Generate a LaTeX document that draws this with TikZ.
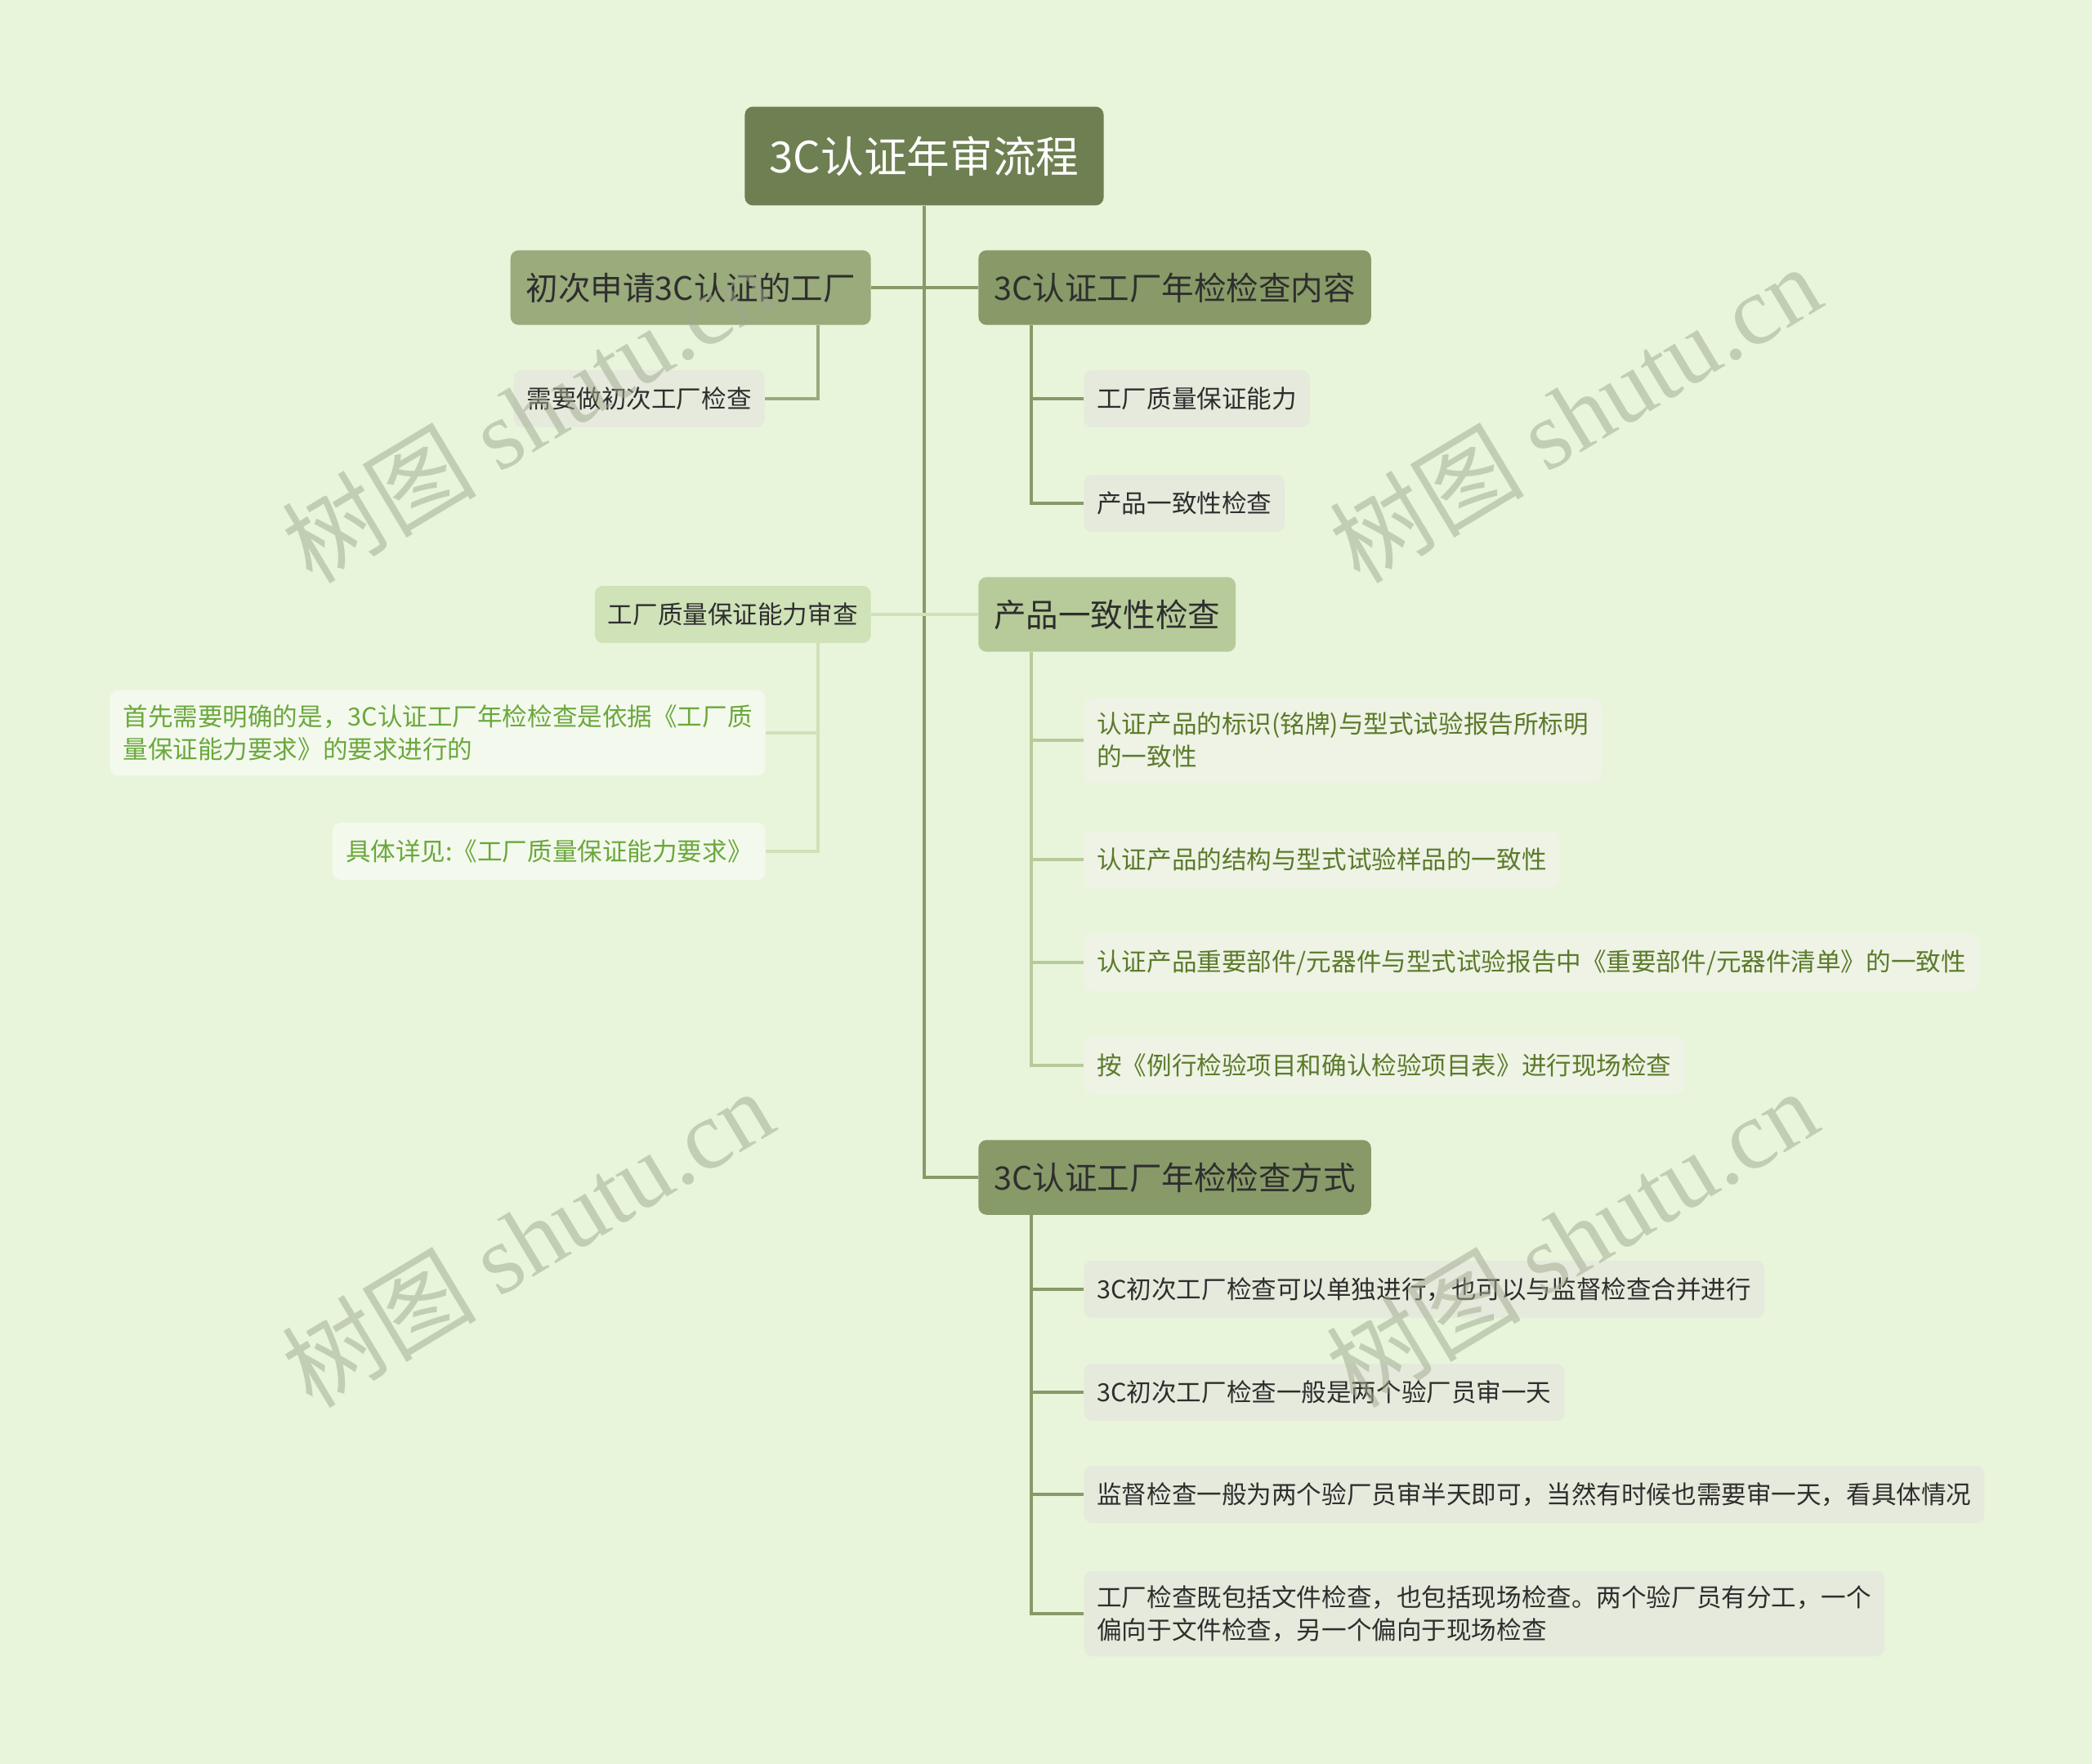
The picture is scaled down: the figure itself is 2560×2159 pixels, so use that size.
\documentclass[tikz,border=0pt]{standalone}
\usepackage{fontspec}
\setmainfont{Noto Sans CJK SC}
\newfontfamily\wmfont{Liberation Serif}
\usetikzlibrary{positioning, calc}

\definecolor{bgcol}{HTML}{E8F5DB}
\definecolor{rootcol}{HTML}{6E7F52}
\definecolor{darkcol}{HTML}{879A68}
\definecolor{midcol}{HTML}{9AAB7C}
\definecolor{lightcol}{HTML}{B7CB9A}
\definecolor{palecol}{HTML}{CFE2B8}
\definecolor{grayfill}{HTML}{E6EADC}
\definecolor{prodfill}{HTML}{EEF3E5}
\definecolor{prodtext}{HTML}{5B7A2B}
\definecolor{qualfill}{HTML}{F4F9EE}
\definecolor{qualtext}{HTML}{6AA83B}
\definecolor{inktext}{HTML}{2E2E2E}
\definecolor{wmcol}{HTML}{9EA88E}

\begin{document}
\begin{tikzpicture}[
    x=0.02cm, y=-0.02cm,
    rootbox/.style={fill=rootcol, text=white, rounded corners=0.2cm, inner xsep=0.6cm,
        minimum height=2.42cm, font=\fontsize{30}{36}\selectfont},
    mainbox/.style={rounded corners=0.2cm, inner xsep=0.38cm, minimum height=1.83cm,
        text=inktext, font=\fontsize{22.5}{28}\selectfont},
    leafbox/.style={rounded corners=0.2cm, inner xsep=0.32cm, inner ysep=0.36cm, minimum height=1.4cm,
        align=left, text=inktext, font=\fontsize{17.4}{22.6}\selectfont},
    link/.style={line width=2.5pt, draw=darkcol},
    wmark/.style={text=wmcol, opacity=0.5, rotate=31, font=\fontsize{68}{70}\selectfont}
]
\fill[bgcol] (0,0) rectangle (2560,2159);
\useasboundingbox (0,0) rectangle (2560,2159);

% root and main topics
\node[rootbox] (root) at (1131,191) {3C认证年审流程};
\node[mainbox, fill=midcol, anchor=east] (first) at (1066,352) {初次申请3C认证的工厂};
\node[mainbox, fill=darkcol, anchor=west] (content) at (1197,352) {3C认证工厂年检检查内容};
\node[mainbox, fill=lightcol, anchor=west] (prodcheck) at (1197,752) {产品一致性检查};
\node[leafbox, fill=palecol, anchor=east] (qualrev) at (1066,752) {工厂质量保证能力审查};
\node[mainbox, fill=darkcol, anchor=west] (method) at (1197,1441) {3C认证工厂年检检查方式};

% leaves
\node[leafbox, fill=grayfill, anchor=east] (need) at (936,488) {需要做初次工厂检查};
\node[leafbox, fill=grayfill, anchor=west] (cap) at (1326,488) {工厂质量保证能力};
\node[leafbox, fill=grayfill, anchor=west] (cons) at (1326,616) {产品一致性检查};

\node[leafbox, fill=prodfill, text=prodtext, anchor=west] (p1) at (1326,906) {认证产品的标识(铭牌)与型式试验报告所标明\\的一致性};
\node[leafbox, fill=prodfill, text=prodtext, anchor=west] (p2) at (1326,1052) {认证产品的结构与型式试验样品的一致性};
\node[leafbox, fill=prodfill, text=prodtext, anchor=west] (p3) at (1326,1178) {认证产品重要部件/元器件与型式试验报告中《重要部件/元器件清单》的一致性};
\node[leafbox, fill=prodfill, text=prodtext, anchor=west] (p4) at (1326,1304) {按《例行检验项目和确认检验项目表》进行现场检查};

\node[leafbox, fill=qualfill, text=qualtext, anchor=east] (q1) at (937,897) {首先需要明确的是，3C认证工厂年检检查是依据《工厂质\\量保证能力要求》的要求进行的};
\node[leafbox, fill=qualfill, text=qualtext, anchor=east] (q2) at (937,1042) {具体详见:《工厂质量保证能力要求》};

\node[leafbox, fill=grayfill, anchor=west] (m1) at (1326,1578) {3C初次工厂检查可以单独进行，也可以与监督检查合并进行};
\node[leafbox, fill=grayfill, anchor=west] (m2) at (1326,1704) {3C初次工厂检查一般是两个验厂员审一天};
\node[leafbox, fill=grayfill, anchor=west] (m3) at (1326,1829) {监督检查一般为两个验厂员审半天即可，当然有时候也需要审一天，看具体情况};
\node[leafbox, fill=grayfill, anchor=west] (m4) at (1326,1975) {工厂检查既包括文件检查，也包括现场检查。两个验厂员有分工，一个\\偏向于文件检查，另一个偏向于现场检查};

% connectors
\draw[link, line width=2.8pt] (root.south) |- (method.west);
\draw[link] (first.east) -- (content.west);
\draw[link, draw=palecol] (qualrev.east) -- (prodcheck.west);

\draw[link, draw=midcol] ($(first.south east)+(-65,0)$) |- (need.east);
\draw[link] ($(content.south west)+(65,0)$) |- (cap.west);
\draw[link] ($(content.south west)+(65,0)$) |- (cons.west);

\draw[link, draw=lightcol] ($(prodcheck.south west)+(65,0)$) |- (p1.west);
\draw[link, draw=lightcol] ($(prodcheck.south west)+(65,0)$) |- (p2.west);
\draw[link, draw=lightcol] ($(prodcheck.south west)+(65,0)$) |- (p3.west);
\draw[link, draw=lightcol] ($(prodcheck.south west)+(65,0)$) |- (p4.west);

\draw[link, draw=palecol] ($(qualrev.south east)+(-65,0)$) |- (q1.east);
\draw[link, draw=palecol] ($(qualrev.south east)+(-65,0)$) |- (q2.east);

\draw[link] ($(method.south west)+(65,0)$) |- (m1.west);
\draw[link] ($(method.south west)+(65,0)$) |- (m2.west);
\draw[link] ($(method.south west)+(65,0)$) |- (m3.west);
\draw[link] ($(method.south west)+(65,0)$) |- (m4.west);

% watermarks
\node[wmark] (wm1) at (645,506) {树图 {\wmfont shutu.cn}};
\node[wmark] (wm2) at (1927,506) {树图 {\wmfont shutu.cn}};
\node[wmark] (wm3) at (645,1515) {树图 {\wmfont shutu.cn}};
\node[wmark] (wm4) at (1923,1515) {树图 {\wmfont shutu.cn}};
\end{tikzpicture}
\end{document}
